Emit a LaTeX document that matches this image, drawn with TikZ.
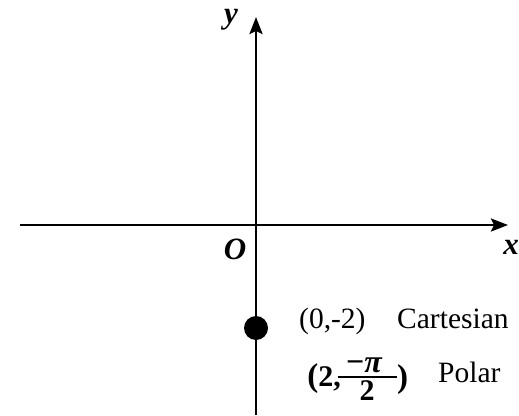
\documentclass[tikz,border=0pt]{standalone}
\usepackage{fontspec}
\setmainfont{Liberation Serif}
\usetikzlibrary{arrows.meta}
\tikzset{
  axis/.style={line width=2.6pt, -{Stealth[length=17pt,width=13pt,inset=3pt]}},
  axislabel/.style={inner sep=0pt, font=\fontsize{31}{34}\selectfont\bfseries\itshape},
  lbl/.style={inner sep=0pt, font=\fontsize{29.5}{34}\selectfont},
  plbl/.style={inner sep=0pt, font=\fontsize{30}{34}\selectfont\bfseries},
  ptdot/.style={circle, fill=black, minimum size=24pt, inner sep=0pt}
}
\begin{document}
\begin{tikzpicture}[x=1pt,y=-1pt]
\useasboundingbox (0,0) rectangle (519,415);
\coordinate (xl) at (20,225);
\coordinate (xr) at (508,225);
\coordinate (yb) at (256,415);
\coordinate (yt) at (256,17);
\draw[axis] (xl) -- (xr);
\draw[axis] (yb) -- (yt);
\node[axislabel] (ylab) at (231,20) {y};
\node[axislabel] (xlab) at (511,247) {x};
\node[axislabel] (olab) at (235,249) {O};
\node[ptdot] (P) at (256,328) {};
\node[lbl, anchor=base west] (cart1) at (299,328) {(0,-2)};
\node[lbl, anchor=base west] (cart2) at (397,328) {Cartesian};
\node[plbl, anchor=base east] (lp) at (341,386) {{\fontsize{33}{36}\selectfont(}2,};
\coordinate (fl) at (338,377);
\coordinate (fr) at (397,377);
\draw[line width=1.8pt] (fl) -- (fr);
\node[plbl, anchor=south, font=\fontsize{32}{34}\selectfont\bfseries] (num) at (364,373) {−{\itshape π}};
\node[plbl, anchor=north] (den) at (367,380) {2};
\node[plbl, anchor=base west, font=\fontsize{33}{36}\selectfont\bfseries] (rp) at (397,387) {)};
\node[lbl, anchor=base west] (polar) at (438,382) {Polar};
\end{tikzpicture}
\end{document}
